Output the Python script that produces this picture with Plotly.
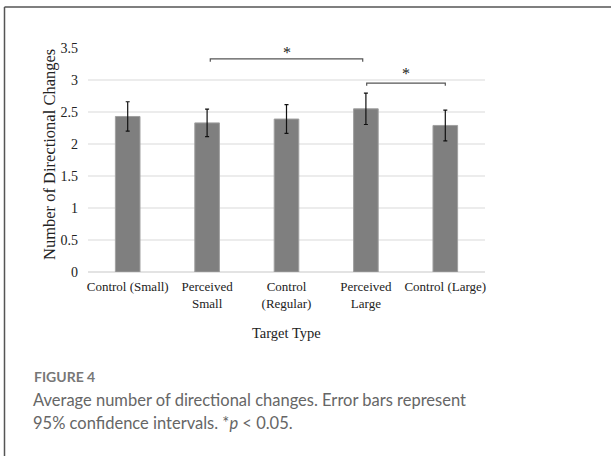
import plotly.graph_objects as go

categories = ["Control (Small)", "Perceived<br>Small", "Control<br>(Regular)", "Perceived<br>Large", "Control (Large)"]
means = [2.43, 2.33, 2.39, 2.55, 2.29]
ci95 = [0.23, 0.215, 0.225, 0.245, 0.24]
y_ticks = [0, 0.5, 1, 1.5, 2, 2.5, 3, 3.5]
y_ticktext = ["0", "0.5", "1", "1.5", "2", "2.5", "3", "3.5"]

# significance brackets: (start, end, height, tick drop, star height)
brackets = [(1.04, 2.96, 3.33, 0.045, 3.43), (3.01, 4.0, 2.95, 0.04, 3.10)]

SERIF = "Liberation Serif, Times New Roman, serif"
SANS = "Lato, Open Sans, sans-serif"

W, H = 611, 456
L, R, T, B = 88, 126, 48, 184
PW, PH = W - L - R, H - T - B


def px_x(px):
    return (px - L) / PW


def px_y(py):
    return (H - B - py) / PH


fig = go.Figure()
fig.add_trace(go.Bar(
    x=list(range(len(categories))),
    y=means,
    width=0.31,
    marker=dict(color="#7f7f7f", line=dict(color="#a0a0a0", width=1)),
    error_y=dict(type="data", array=ci95, color="#111111", thickness=1.2, width=2),
    showlegend=False,
))

shapes = []
annotations = []
for x0, x1, yb, drop, ys in brackets:
    shapes.append(dict(
        type="path", xref="x", yref="y",
        path=f"M {x0},{yb - drop} L {x0},{yb} L {x1},{yb} L {x1},{yb - drop}",
        line=dict(color="#555555", width=1.2),
    ))
    annotations.append(dict(
        x=(x0 + x1) / 2, y=ys, xref="x", yref="y", text="*", showarrow=False,
        font=dict(family=SERIF, size=16, color="#222222"), yanchor="middle",
    ))

# outer frame (top and left edges)
shapes.append(dict(type="line", xref="paper", yref="paper",
                   x0=px_x(4.5), x1=px_x(612), y0=px_y(7), y1=px_y(7),
                   line=dict(color="#555555", width=1.5)))
shapes.append(dict(type="line", xref="paper", yref="paper",
                   x0=px_x(4.5), x1=px_x(4.5), y0=px_y(7), y1=px_y(457),
                   line=dict(color="#555555", width=1.5)))

annotations += [
    dict(x=px_x(49), y=px_y(155), xref="paper", yref="paper", textangle=-90,
         xanchor="center", yanchor="middle",
         text="Number of Directional Changes", showarrow=False,
         font=dict(family=SERIF, size=16.5, color="#222222")),
    dict(x=0.5, y=px_y(333), xref="paper", yref="paper", xanchor="center", yanchor="middle",
         text="Target Type", showarrow=False,
         font=dict(family=SERIF, size=14.5, color="#222222")),
    dict(x=px_x(32), y=px_y(376), xref="paper", yref="paper", xanchor="left", yanchor="middle",
         text="<b>FIGURE 4</b>", showarrow=False, font=dict(family=SANS, size=14, color="#777777")),
    dict(x=px_x(31), y=px_y(400), xref="paper", yref="paper", xanchor="left", yanchor="middle",
         text="Average number of directional changes. Error bars represent", showarrow=False,
         font=dict(family=SANS, size=16.5, color="#666666")),
    dict(x=px_x(31), y=px_y(423), xref="paper", yref="paper", xanchor="left", yanchor="middle",
         text="95% confidence intervals. *<i>p</i> &lt; 0.05.", showarrow=False,
         font=dict(family=SANS, size=16.5, color="#666666")),
]

fig.update_layout(
    width=W, height=H,
    margin=dict(l=L, r=R, t=T, b=B),
    paper_bgcolor="#FFFFFF",
    plot_bgcolor="#FFFFFF",
    font=dict(family=SERIF, color="#222222", size=13),
    shapes=shapes,
    annotations=annotations,
)
fig.update_xaxes(
    tickvals=list(range(len(categories))), ticktext=categories,
    range=[-0.5, len(categories) - 0.5],
    showgrid=False, showline=False, zeroline=False, ticks="",
    ticklabelstandoff=5,
    tickfont=dict(family=SERIF, size=13, color="#222222"),
)
fig.update_yaxes(
    range=[0, 3.5], tickvals=y_ticks, ticktext=y_ticktext,
    showgrid=True, gridcolor="#ececec", gridwidth=1.5,
    zeroline=True, zerolinecolor="#e3e3e3", zerolinewidth=1.5,
    showline=False, ticks="", ticklabelstandoff=9,
    tickfont=dict(family=SERIF, size=14, color="#222222"),
)

# drop the page's default body margin so the figure sits at the window origin
fig.write_html("out.html", config={"displayModeBar": False},
               post_script="document.body.style.margin='0px';")
